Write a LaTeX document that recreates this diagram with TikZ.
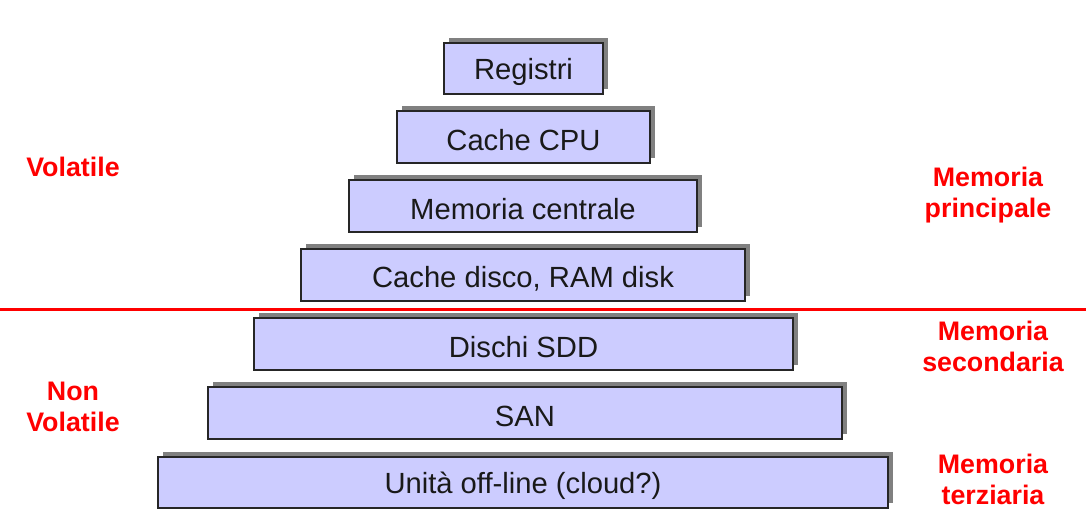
\documentclass[tikz,border=0pt]{standalone}
\usepackage{fontspec}
\setmainfont{Liberation Sans}
\begin{document}
\begin{tikzpicture}[x=1pt,y=-1pt,
  lvl/.style={draw=black!85, line width=1.3pt, fill=boxfill},
  lvltext/.style={font=\fontsize{29.2}{32}\selectfont, text=black!90},
  side/.style={text=red, font=\fontsize{26.8}{31}\selectfont\bfseries, align=center}]
\definecolor{boxfill}{HTML}{CCCCFF}
\definecolor{shadowgray}{HTML}{808080}
\useasboundingbox (0,0) rectangle (1086,520);
% shadows and boxes: x1,y1,x2,y2,name,text
\foreach \xa/\ya/\xb/\yb/\nm/\tx in {
  444/43/603/94/reg/{Registri},
  397/111/650/163/cpu/{Cache CPU},
  349/180/697/232/mem/{Memoria centrale},
  301/249/745/301/cdisk/{Cache disco, RAM disk},
  254/318/793/370/sdd/{Dischi SDD},
  208/387/842/439/san/{SAN},
  158/457/888/508/off/{Unità off-line (cloud?)}}{
  \fill[shadowgray] (\xa+5,\ya-5) rectangle (\xb+5,\yb-5);
  \draw[lvl] (\xa,\ya) rectangle (\xb,\yb);
  \node[lvltext] (\nm) at ({(\xa+\xb)/2},{(\ya+\yb)/2+3.5}) {\tx};
}
\coordinate (lineL) at (0,309);
\coordinate (lineR) at (1086,309);
\draw[red, line width=3pt] (lineL) -- (lineR);
\node[side] (vol) at (73,167) {Volatile};
\node[side] (nvol) at (73,407) {Non\\Volatile};
\node[side] (mprin) at (988,195) {Memoria\\principale};
\node[side] (msec) at (993,346) {Memoria\\secondaria};
\node[side] (mter) at (993,479) {Memoria\\terziaria};
\end{tikzpicture}
\end{document}
